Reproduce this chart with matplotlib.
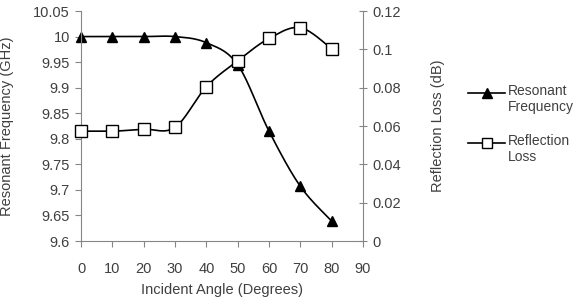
import numpy as np
import matplotlib
matplotlib.use("Agg")
import matplotlib.pyplot as plt

plt.rcParams["font.family"] = ["Liberation Sans", "DejaVu Sans"]

angle = [0, 10, 20, 30, 40, 50, 60, 70, 80]
res_freq = [10.0, 10.0, 10.0, 10.0, 9.988, 9.945, 9.815, 9.707, 9.639]
refl_loss = [0.0573, 0.0573, 0.0583, 0.0593, 0.0805, 0.094, 0.1057, 0.1113, 0.1003]
legend_labels = ["Resonant\nFrequency", "Reflection\nLoss"]


def smooth(x, y, n=30):
    # excel-like smoothed line (catmull-rom bezier)
    x = np.asarray(x, float)
    y = np.asarray(y, float)
    xs, ys = [], []
    for i in range(len(x) - 1):
        p0 = (x[max(i - 1, 0)], y[max(i - 1, 0)])
        p1 = (x[i], y[i])
        p2 = (x[i + 1], y[i + 1])
        p3 = (x[min(i + 2, len(x) - 1)], y[min(i + 2, len(x) - 1)])
        c1 = (p1[0] + (p2[0] - p0[0]) / 6, p1[1] + (p2[1] - p0[1]) / 6)
        c2 = (p2[0] - (p3[0] - p1[0]) / 6, p2[1] - (p3[1] - p1[1]) / 6)
        t = np.linspace(0, 1, n)
        bx = (1-t)**3*p1[0] + 3*(1-t)**2*t*c1[0] + 3*(1-t)*t**2*c2[0] + t**3*p2[0]
        by = (1-t)**3*p1[1] + 3*(1-t)**2*t*c1[1] + 3*(1-t)*t**2*c2[1] + t**3*p2[1]
        xs.extend(bx)
        ys.extend(by)
    return xs, ys


txt = "#404040"
spine = "#868686"
fs = 10.5

fig = plt.figure(figsize=(5.75, 3.06), dpi=100)
ax = fig.add_axes([0.1409, 0.2124, 0.4904, 0.7516])
ax2 = ax.twinx()

sx, sy = smooth(angle, res_freq)
ax.plot(sx, sy, color="black", lw=1.2)
ax.plot(angle, res_freq, ls="none", marker="^", ms=7.5, color="black", clip_on=False)

sx, sy = smooth(angle, refl_loss)
ax2.plot(sx, sy, color="black", lw=1.2)
ax2.plot(angle, refl_loss, ls="none", marker="s", ms=8, mfc="white", mec="black",
         mew=1.0, clip_on=False)

ax.set_xlim(0, 90)
ax.set_ylim(9.6, 10.05)
ax.set_yticks(np.arange(9.6, 10.051, 0.05))
ax.set_yticklabels(["9.6", "9.65", "9.7", "9.75", "9.8", "9.85", "9.9", "9.95", "10", "10.05"])
ax.set_xticks(range(0, 91, 10))
ax2.set_ylim(0, 0.12)
ax2.set_yticks([0, 0.02, 0.04, 0.06, 0.08, 0.1, 0.12])
ax2.set_yticklabels(["0", "0.02", "0.04", "0.06", "0.08", "0.1", "0.12"])

for a in (ax, ax2):
    a.spines["top"].set_visible(False)
    for s in ("left", "right", "bottom"):
        a.spines[s].set_color(spine)
ax.spines["right"].set_visible(False)
ax2.spines["left"].set_visible(False)
ax2.spines["bottom"].set_visible(False)

ax.tick_params(axis="y", direction="out", length=4, color=spine, labelcolor=txt,
               labelsize=fs, pad=4)
ax.tick_params(axis="x", direction="out", length=4, color=spine, labelcolor=txt,
               labelsize=fs, pad=11)
ax2.tick_params(axis="y", direction="inout", length=6, color=spine, labelcolor=txt,
                labelsize=fs, pad=4)

ax.set_xlabel("Incident Angle (Degrees)", color=txt, fontsize=fs, labelpad=5)
ax.set_ylabel("Resonant Frequency (GHz)", color=txt, fontsize=fs, labelpad=14)
ax2.set_ylabel("Reflection Loss (dB)", color=txt, fontsize=fs, labelpad=21)

# legend drawn by hand: marker sits on the first text line, like Excel
leg_y = [1 - 93 / 306, 1 - 143 / 306]
styles = [dict(marker="^", ms=7, mfc="black", mec="black"),
          dict(marker="s", ms=7, mfc="white", mec="black")]
for y, lab, st in zip(leg_y, legend_labels, styles):
    fig.add_artist(plt.Line2D([468 / 575, 505 / 575], [y, y], color="black", lw=1.2,
                              transform=fig.transFigure))
    fig.add_artist(plt.Line2D([486.5 / 575], [y], ls="none", transform=fig.transFigure, **st))
    fig.text(508 / 575, y + 0.028, lab, color=txt, fontsize=10, va="top", ha="left",
             linespacing=1.1)

fig.savefig("out.png", dpi=100)
